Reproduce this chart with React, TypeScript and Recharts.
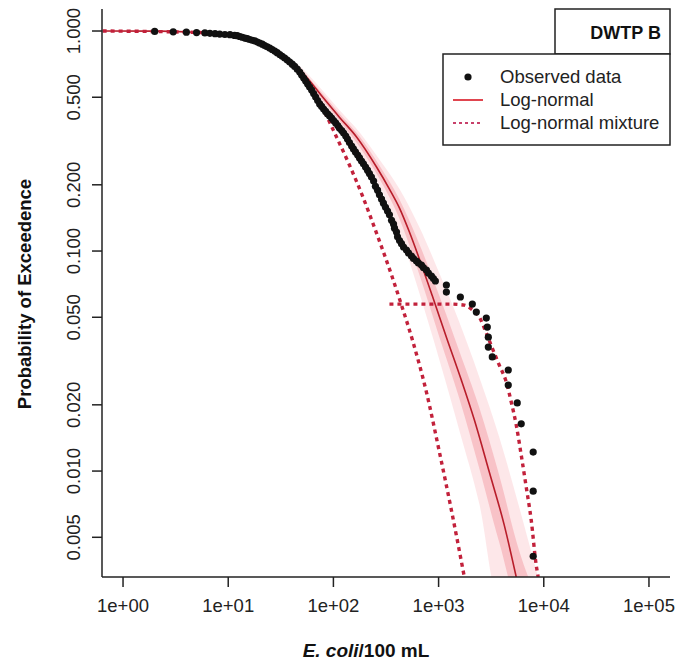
import React from 'react';
import {
  ComposedChart,
  Line,
  Area,
  Scatter,
  XAxis,
  YAxis,
} from 'recharts';

// observed E. coli concentrations and their exceedance probabilities
const obsConc = [
  2, 3, 4, 5, 6, 6.7, 7.5, 8.3, 9.3, 10.4, 11.5, 12.2, 12.9, 13.6, 14.4, 15.2, 16, 16.9, 17.9, 18.9,
  19.9, 21.1, 22.2, 23.5, 24.8, 26.2, 27.7, 29.2, 30.9, 32.6, 34.4, 36.4, 38.4, 40.6, 42.8, 45.3,
  47.8, 49.9, 52.2, 54.5, 56.9, 59.4, 62.1, 64.9, 67.8, 70.8, 74, 77.3, 80.7, 84.3, 88.1, 92, 96.1,
  100.4, 105, 110, 114, 120, 125, 131, 136, 142, 149, 155, 162, 170, 177, 185, 193, 202, 211, 220,
  230, 241, 251, 263, 274, 287, 299, 313, 327, 341, 357, 373, 381, 398, 407, 425, 444, 464, 495, 517,
  552, 577, 616, 643, 687, 717, 766, 800, 855, 893, 932, 1186, 1186, 1610, 2093, 2284, 2841, 2904,
  2969, 2969, 3239, 4595, 4595, 5593, 6105, 7931, 7931, 7931,
];
const obsProb = [
  0.996, 0.992, 0.988, 0.984, 0.98, 0.976, 0.972, 0.968, 0.964, 0.962, 0.955, 0.952, 0.944, 0.937,
  0.929, 0.923, 0.915, 0.908, 0.901, 0.891, 0.882, 0.871, 0.859, 0.848, 0.837, 0.824, 0.811, 0.797,
  0.782, 0.768, 0.754, 0.738, 0.723, 0.707, 0.69, 0.671, 0.651, 0.631, 0.611, 0.592, 0.574, 0.556,
  0.539, 0.52, 0.501, 0.483, 0.466, 0.454, 0.442, 0.431, 0.42, 0.411, 0.402, 0.392, 0.382, 0.372,
  0.362, 0.353, 0.344, 0.333, 0.323, 0.311, 0.3, 0.291, 0.282, 0.273, 0.265, 0.2565, 0.249, 0.241,
  0.233, 0.225, 0.217, 0.208, 0.197, 0.189, 0.18, 0.172, 0.165, 0.158, 0.152, 0.146, 0.138, 0.1327,
  0.127, 0.122, 0.116, 0.1116, 0.108, 0.1043, 0.101, 0.098, 0.0949, 0.0924, 0.0901, 0.0882, 0.0864,
  0.0841, 0.082, 0.0794, 0.077, 0.075, 0.0731, 0.0701, 0.0651, 0.0618, 0.0574, 0.0528, 0.0496,
  0.0451, 0.0406, 0.0366, 0.033, 0.0288, 0.0246, 0.0204, 0.0164, 0.0122, 0.0081, 0.0041,
];

// fitted log-normal
const lnConc = [0.64, 2.24, 5.38, 10.4, 16, 24.8, 38.4, 53.3, 79, 114, 166, 257, 341, 425, 528, 657, 873, 1186, 1646, 2186, 3034, 4210, 5472];
const lnProb = [1, 0.999, 0.9845, 0.959, 0.91, 0.837, 0.738, 0.631, 0.501, 0.406, 0.33, 0.241, 0.1913, 0.1568, 0.122, 0.092, 0.0624, 0.0406, 0.0259, 0.0171, 0.0099, 0.00568, 0.0033];

// uncertainty band around the log-normal fit
const bandConc = [10.4, 16, 30.9, 47.8, 74, 114, 177, 274, 425, 657, 1018, 1575, 2439, 3775, 5843, 9046];
const bandOuterLo = [0.955, 0.905, 0.771, 0.637, 0.489, 0.378, 0.282, 0.1983, 0.122, 0.0643, 0.032, 0.0153, 0.0071, 0.0025, 0.0025, 0.0025];
const bandOuterHi = [0.965, 0.915, 0.801, 0.693, 0.555, 0.4375, 0.3465, 0.2606, 0.1913, 0.1283, 0.0792, 0.0474, 0.0267, 0.01423, 0.00684, 0.00315];
const bandInnerLo = [0.958, 0.908, 0.779, 0.651, 0.504, 0.392, 0.2976, 0.2129, 0.14, 0.078, 0.0406, 0.02136, 0.01027, 0.00474, 0.0025, 0.0025];
const bandInnerHi = [0.962, 0.912, 0.793, 0.679, 0.5375, 0.4217, 0.332, 0.2446, 0.1714, 0.1074, 0.0624, 0.035, 0.0194, 0.00954, 0.00433, 0.0025];

// log-normal mixture components
const mix1Conc = [0.64, 5.38, 16, 38.4, 59.4, 82.5, 107, 142, 189, 257, 357, 444, 564, 766, 1018, 1323, 1757];
const mix1Prob = [1, 0.9845, 0.91, 0.723, 0.556, 0.428, 0.33, 0.246, 0.178, 0.1207, 0.0778, 0.0568, 0.0394, 0.02286, 0.0122, 0.00665, 0.0033];
const mix2Conc = [341, 657, 1266, 1757, 2048, 2439, 2841, 3239, 3775, 4399, 4906, 5472, 6105, 6808, 7596, 8472, 8850];
const mix2Prob = [0.0574, 0.0574, 0.0574, 0.0568, 0.0545, 0.0501, 0.0424, 0.0362, 0.0303, 0.0254, 0.0206, 0.0162, 0.01182, 0.00846, 0.00599, 0.00374, 0.0033];

const xTicks = [1, 10, 100, 1000, 10000, 100000];
const yTicks = [0.005, 0.01, 0.02, 0.05, 0.1, 0.2, 0.5, 1];

const FONT = '"Liberation Sans", Arial, Helvetica, sans-serif';
const INK = '#222';

const pairs = (xs: number[], ys: number[]) => xs.map((x, i) => ({ x, p: ys[i] }));
const ranges = (xs: number[], lo: number[], hi: number[]) =>
  xs.map((x, i) => ({ x, band: [lo[i], hi[i]] }));

const observed = pairs(obsConc, obsProb);
const logNormal = pairs(lnConc, lnProb);
const mixture1 = pairs(mix1Conc, mix1Prob);
const mixture2 = pairs(mix2Conc, mix2Prob);
const bandOuter = ranges(bandConc, bandOuterLo, bandOuterHi);
const bandInner = ranges(bandConc, bandInnerLo, bandInnerHi);

const fmtX = (v: number) => `1e+0${Math.round(Math.log10(v))}`;

const YTick = (props: any) => {
  const { y, payload } = props;
  return (
    <text
      x={80}
      y={y}
      transform={`rotate(-90, 80, ${y})`}
      textAnchor="middle"
      fill={INK}
      style={{ fontFamily: FONT, fontSize: 18.5 }}
    >
      {Number(payload.value).toFixed(3)}
    </text>
  );
};

const Dot = (props: any) => <circle cx={props.cx} cy={props.cy} r={3.6} fill="#111" />;

const App: React.FC = () => {
  return (
    <div style={{ position: 'absolute', left: 0, top: 0, width: 680, height: 662, background: '#fff' }}>
      <ComposedChart width={680} height={662} margin={{ top: 9, right: 10, bottom: 0, left: 0 }}>
        <XAxis
          dataKey="x"
          type="number"
          scale="log"
          domain={[0.631, 158489]}
          allowDataOverflow
          ticks={xTicks}
          tickFormatter={fmtX}
          tickSize={10}
          tickMargin={12}
          height={85}
          axisLine={{ stroke: INK, strokeWidth: 1.5 }}
          tickLine={{ stroke: INK, strokeWidth: 1.5 }}
          tick={{ fontSize: 18.5, fill: INK, fontFamily: FONT }}
        />
        <XAxis
          xAxisId="top"
          orientation="top"
          type="number"
          scale="log"
          domain={[0.631, 158489]}
          allowDataOverflow
          height={0}
          tick={false}
          tickLine={false}
          axisLine={{ stroke: INK, strokeWidth: 1.5 }}
        />
        <YAxis
          dataKey="p"
          type="number"
          scale="log"
          domain={[0.0033, 1.259]}
          allowDataOverflow
          ticks={yTicks}
          width={102}
          tickSize={10}
          axisLine={{ stroke: INK, strokeWidth: 1.5 }}
          tickLine={{ stroke: INK, strokeWidth: 1.5 }}
          tick={<YTick />}
        />
        <YAxis
          yAxisId="right"
          orientation="right"
          type="number"
          scale="log"
          domain={[0.0033, 1.259]}
          allowDataOverflow
          width={0}
          tick={false}
          tickLine={false}
          axisLine={{ stroke: INK, strokeWidth: 1.5 }}
        />

        <Area
          data={bandOuter}
          dataKey="band"
          type="monotone"
          stroke="none"
          fill="#ef5560"
          fillOpacity={0.14}
          isAnimationActive={false}
        />
        <Area
          data={bandInner}
          dataKey="band"
          type="monotone"
          stroke="none"
          fill="#e8303f"
          fillOpacity={0.2}
          isAnimationActive={false}
        />
        <Line
          data={logNormal}
          dataKey="p"
          type="monotone"
          stroke="#b81d2a"
          strokeWidth={1.6}
          dot={false}
          activeDot={false}
          isAnimationActive={false}
        />
        <Line
          data={mixture1}
          dataKey="p"
          type="monotone"
          stroke="#c2213b"
          strokeWidth={3.4}
          strokeDasharray="4 4"
          dot={false}
          activeDot={false}
          isAnimationActive={false}
        />
        <Line
          data={mixture2}
          dataKey="p"
          type="monotone"
          stroke="#c2213b"
          strokeWidth={3.4}
          strokeDasharray="4 4"
          dot={false}
          activeDot={false}
          isAnimationActive={false}
        />
        <Scatter data={observed} dataKey="p" shape={<Dot />} isAnimationActive={false} />
      </ComposedChart>

      <svg
        width={680}
        height={662}
        style={{ position: 'absolute', left: 0, top: 0, pointerEvents: 'none', fontFamily: FONT }}
      >
        {/* panel tag */}
        <rect x={555} y={9} width={115} height={45} fill="#fff" stroke={INK} strokeWidth={1.5} />
        <text x={661} y={39} textAnchor="end" fontSize={18} fontWeight="bold" fill="#111">
          DWTP B
        </text>

        {/* legend */}
        <rect x={443} y={54} width={227} height={91} fill="#fff" stroke={INK} strokeWidth={1.5} />
        <circle cx={468} cy={77} r={3.6} fill="#111" />
        <line x1={453} x2={483} y1={100} y2={100} stroke="#e0454f" strokeWidth={2} />
        <line x1={453} x2={483} y1={123} y2={123} stroke="#c8406a" strokeWidth={2} strokeDasharray="3 3" />
        <text x={500} y={83} fontSize={18.5} fill={INK}>Observed data</text>
        <text x={500} y={106} fontSize={18.5} fill={INK}>Log-normal</text>
        <text x={500} y={129} fontSize={18.5} fill={INK}>Log-normal mixture</text>

        {/* axis titles */}
        <text
          x={31}
          y={294}
          transform="rotate(-90, 31, 294)"
          textAnchor="middle"
          fontSize={18.5}
          fontWeight="bold"
          fill="#111"
        >
          Probability of Exceedence
        </text>
        <text x={366} y={657} textAnchor="middle" fontSize={19} fontWeight="bold" fill="#111">
          <tspan fontStyle="italic">E. coli</tspan>
          <tspan>/100 mL</tspan>
        </text>
      </svg>
    </div>
  );
};

export default App;
